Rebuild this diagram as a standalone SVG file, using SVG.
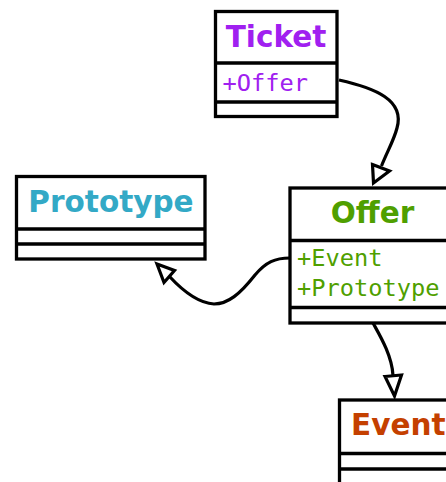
<svg xmlns="http://www.w3.org/2000/svg" width="446" height="482" viewBox="0 0 446 482">
  <style>
    .box { fill: #ffffff; stroke: #000000; stroke-width: 3.3; }
    .sep { stroke: #000000; stroke-width: 3.3; fill: none; }
    .title { font-family: "DejaVu Sans", "Liberation Sans", sans-serif; font-weight: bold; font-size: 29.5px; }
    .attr { font-family: "DejaVu Sans Mono", "Liberation Mono", monospace; font-size: 23.7px; }
    .edge { fill: none; stroke: #000000; stroke-width: 3.2; }
    .head { fill: #ffffff; stroke: #000000; stroke-width: 3.2; stroke-linejoin: miter; }
  </style>
  <rect width="446" height="482" fill="#ffffff"/>

  <!-- class: Ticket -->
  <g id="node-ticket">
    <rect class="box" x="215.5" y="11.5" width="121.5" height="105"/>
    <line class="sep" x1="215.5" y1="63" x2="337" y2="63"/>
    <line class="sep" x1="215.5" y1="102" x2="337" y2="102"/>
    <text class="title" x="276" y="46.5" text-anchor="middle" fill="#a020f0">Ticket</text>
    <text class="attr" x="222.5" y="90.5" fill="#a020f0">+Offer</text>
  </g>

  <!-- class: Prototype -->
  <g id="node-prototype">
    <rect class="box" x="16.5" y="176.5" width="188.5" height="82.5"/>
    <line class="sep" x1="16.5" y1="229" x2="205" y2="229"/>
    <line class="sep" x1="16.5" y1="244" x2="205" y2="244"/>
    <text class="title" x="111" y="212" text-anchor="middle" fill="#33a9c6">Prototype</text>
  </g>

  <!-- class: Offer -->
  <g id="node-offer">
    <rect class="box" x="290" y="188" width="175" height="135"/>
    <line class="sep" x1="290" y1="240.5" x2="465" y2="240.5"/>
    <line class="sep" x1="290" y1="307.5" x2="465" y2="307.5"/>
    <text class="title" x="372.5" y="222.5" text-anchor="middle" fill="#4f9f00">Offer</text>
    <text class="attr" x="297" y="266" fill="#4f9f00">+Event</text>
    <text class="attr" x="297" y="296" fill="#4f9f00">+Prototype</text>
  </g>

  <!-- class: Event -->
  <g id="node-event">
    <rect class="box" x="339.5" y="400" width="150" height="100"/>
    <line class="sep" x1="339.5" y1="453.5" x2="489.5" y2="453.5"/>
    <line class="sep" x1="339.5" y1="469" x2="489.5" y2="469"/>
    <text class="title" x="351" y="435" fill="#c44000">Event</text>
  </g>

  <!-- generalisation arrows -->
  <g id="edges">
    <path class="edge" d="M339,80 C375,88 405,100 397,128 C394,140 387,152 381.5,166"/>
    <polygon class="head" points="372.5,164.5 389.5,171 373.5,183"/>

    <path class="edge" d="M290,258 C275,258 266,262 255,275 C240,294 228,304 214,304 C197,303 182,290 169.5,276.5"/>
    <polygon class="head" points="157,264 174.5,270.5 164,282.5"/>

    <path class="edge" d="M373,323 C379,334 392,355 393,375.5"/>
    <polygon class="head" points="385,376.5 401.5,375 394.5,396"/>
  </g>
</svg>
